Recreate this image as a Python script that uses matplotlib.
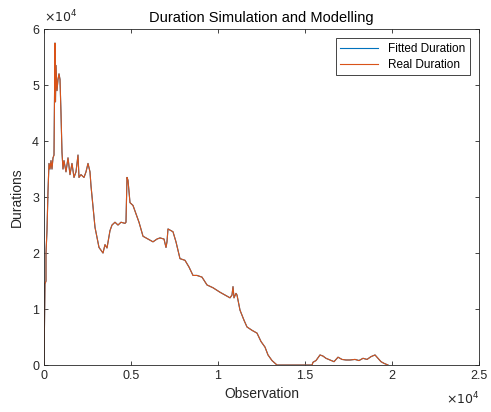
import matplotlib.pyplot as plt
from matplotlib.ticker import FuncFormatter, MultipleLocator

# observation index and duration
obs = [0, 57, 115, 115, 172, 230, 287, 345, 402, 460, 517, 575, 632, 660, 690, 747,
       805, 862, 920, 977, 1034, 1092, 1149, 1264, 1380, 1494, 1609, 1724, 1839, 1954,
       2011, 2126, 2299, 2414, 2529, 2643, 2701, 2931, 3161, 3391, 3506, 3621, 3793,
       3908, 4080, 4253, 4425, 4655, 4712, 4770, 4827, 4885, 4942, 5115, 5230, 5460,
       5690, 5977, 6264, 6494, 6666, 6896, 7011, 7068, 7126, 7298, 7413, 7585, 7815,
       8103, 8333, 8563, 8793, 9080, 9368, 9713, 10115, 10402, 10690, 10804, 10862,
       10919, 11034, 11092, 11264, 11494, 11666, 11954, 12241, 12471, 12701, 12873,
       13103, 13390, 14000, 14400, 14500, 15402, 15460, 15632, 15862, 16034, 16207,
       16437, 16667, 16897, 17126, 17356, 17586, 17874, 18103, 18333, 18563, 18793,
       19023, 19195, 19367, 19540, 19770]
real_dur = [0, 14500, 15000, 20000, 24000, 31000, 36000, 35000, 36500, 35000, 37000,
            37500, 57500, 47000, 53500, 49000, 51000, 52000, 51000, 45000, 38000, 35000,
            36500, 34500, 37000, 34000, 36000, 33500, 34500, 37500, 33500, 34000, 33500,
            34500, 36000, 34500, 32000, 24600, 21000, 20000, 21500, 20900, 24000, 25000,
            25500, 25000, 25500, 25300, 25500, 33500, 33000, 31000, 29000, 28500, 27500,
            25500, 23000, 22500, 22000, 22500, 22700, 22500, 21000, 22000, 24300, 24000,
            23800, 22000, 19000, 18700, 17500, 16000, 16000, 15700, 14300, 13800, 13000,
            12500, 12000, 12500, 14000, 12000, 12800, 12500, 9800, 8000, 6800, 6200, 5700,
            4200, 3200, 1800, 800, 0, 0, 0, 0, 0, 500, 800, 1800, 1600, 1200, 900, 600,
            1400, 1000, 900, 900, 1000, 800, 1200, 1000, 1500, 1800, 1200, 600, 300, 0]
fitted_dur = list(real_dur)  # fitted line sits right under the real one

plt.rcParams['font.family'] = ['Liberation Sans', 'DejaVu Sans']

fig = plt.figure(figsize=(4.91, 4.12), dpi=100)
ax = fig.add_axes([0.0896, 0.114, 0.886, 0.8155])

ax.plot(obs, fitted_dur, color='#0072BD', lw=0.8, label='Fitted Duration')
ax.plot(obs, real_dur, color='#D95319', lw=0.8, label='Real Duration')

ax.set_xlim(0, 25000)
ax.set_ylim(0, 60000)
ax.xaxis.set_major_locator(MultipleLocator(5000))
ax.yaxis.set_major_locator(MultipleLocator(10000))
fmt = FuncFormatter(lambda v, p: f'{v / 1e4:g}')
ax.xaxis.set_major_formatter(fmt)
ax.yaxis.set_major_formatter(fmt)

grey = '#262626'
ax.tick_params(direction='in', length=3, width=0.6, colors=grey, labelsize=9,
               top=True, right=True)
for s in ax.spines.values():
    s.set_color(grey)
    s.set_linewidth(0.6)

# MATLAB style exponent labels
ax.text(0.0, 1.01, r'$\times10^4$', transform=ax.transAxes, fontsize=9, color=grey,
        ha='left', va='bottom')
ax.text(1.0, -0.075, r'$\times10^4$', transform=ax.transAxes, fontsize=9, color=grey,
        ha='right', va='top')

ax.set_title('Duration Simulation and Modelling', fontsize=10.5, pad=5)
ax.set_xlabel('Observation', fontsize=10, color=grey, labelpad=4)
ax.set_ylabel('Durations', fontsize=10, color=grey, labelpad=6)

leg = ax.legend(loc='upper right', fontsize=8.5, fancybox=False, framealpha=1,
                edgecolor=grey, handlelength=3.2, borderaxespad=0.8,
                borderpad=0.4, labelspacing=0.3)
leg.get_frame().set_linewidth(0.6)

fig.savefig('out.png', dpi=100)
